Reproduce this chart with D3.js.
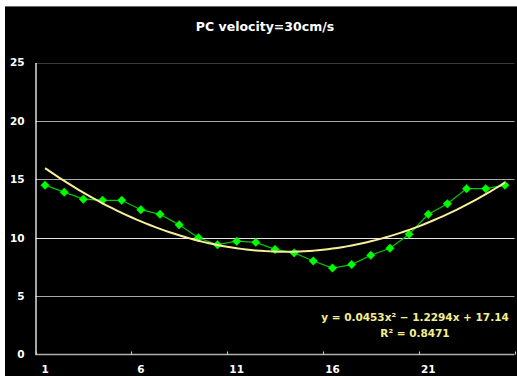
<!DOCTYPE html>
<html>
<head>
<meta charset="utf-8">
<script src="https://cdn.jsdelivr.net/npm/d3@7"></script>
<style>
  html, body { margin: 0; padding: 0; background: #ffffff; }
  svg { display: block; }
  text { font-family: "DejaVu Sans", "Liberation Sans", sans-serif; font-weight: bold; }
</style>
</head>
<body>
<svg id="chart" width="517" height="376"></svg>
<script>
// Chart data
const titleText = "PC velocity=30cm/s";
const categories = d3.range(1, 26);
const velocityValues = [14.5, 13.9, 13.3, 13.2, 13.2, 12.4, 12.0, 11.1, 10.0, 9.4,
                        9.7, 9.6, 9.0, 8.7, 8.0, 7.4, 7.7, 8.5, 9.1, 10.3,
                        12.0, 12.9, 14.2, 14.2, 14.5];
const yTicks = [0, 5, 10, 15, 20, 25];
const xTickLabels = [1, 6, 11, 16, 21];
// Polynomial trend line coefficients: y = a x^2 + b x + c
const trendCoeffs = [0.0453, -1.2294, 17.14];
const trendLabel = ["y = 0.0453x\u00B2 \u2212 1.2294x + 17.14", "R\u00B2 = 0.8471"];

const svg = d3.select("#chart");

// Frame
svg.append("rect").attr("x", 5).attr("y", 6).attr("width", 512).attr("height", 370).attr("fill", "#000");
svg.append("line").attr("x1", 5).attr("x2", 517).attr("y1", 6.5).attr("y2", 6.5)
  .attr("stroke", "#6a6a6a").attr("stroke-width", 1);

const plot = { left: 35.5, right: 514.5, top: 62.5, bottom: 354.5 };

const x = d3.scaleBand().domain(categories).range([plot.left, plot.right]).paddingInner(0).paddingOuter(0);
const xc = d => x(d) + x.bandwidth() / 2;
const xl = d3.scaleLinear().domain([0.5, categories.length + 0.5]).range([plot.left, plot.right]);
const y = d3.scaleLinear().domain([0, 25]).range([plot.bottom, plot.top]);

// Title
svg.append("text").attr("x", 265).attr("y", 31).attr("text-anchor", "middle")
  .attr("fill", "#fff").attr("font-size", 12.5).text(titleText);

// Horizontal gridlines
const gridColor = v => v === 25 ? "#3a3a3a" : (v === 10 ? "#e6e6e6" : "#a8a8a8");
svg.append("g").selectAll("line").data(yTicks.filter(v => v > 0)).join("line")
  .attr("x1", plot.left).attr("x2", plot.right)
  .attr("y1", d => Math.round(y(d)) + 0.5).attr("y2", d => Math.round(y(d)) + 0.5)
  .attr("stroke", gridColor).attr("stroke-width", 1.2);

// Y axis
const yAxis = d3.axisLeft(y).tickValues(yTicks).tickSize(0).tickPadding(11);
const yg = svg.append("g").attr("transform", `translate(${plot.left},0)`).call(yAxis);
yg.select(".domain").attr("stroke", "#fff").attr("stroke-width", 1.3);
yg.selectAll("text").attr("fill", "#fff").attr("font-size", 10.5)
  .attr("font-family", "DejaVu Sans, sans-serif").attr("font-weight", "bold");

// X axis with ticks at every fifth category boundary
const xAxisG = svg.append("g").attr("transform", `translate(0,${plot.bottom})`);
xAxisG.append("line").attr("x1", plot.left).attr("x2", plot.right).attr("y1", 0).attr("y2", 0)
  .attr("stroke", "#b0b0b0").attr("stroke-width", 1.3);
const boundaries = d3.range(0.5, categories.length + 1, 5);
xAxisG.selectAll("line.tick").data(boundaries).join("line").attr("class", "tick")
  .attr("x1", d => Math.round(xl(d)) + 0.5).attr("x2", d => Math.round(xl(d)) + 0.5)
  .attr("y1", 0).attr("y2", -3).attr("stroke", "#d0d0d0").attr("stroke-width", 1);
xAxisG.selectAll("text").data(xTickLabels).join("text")
  .attr("x", d => xc(d)).attr("y", 18).attr("text-anchor", "middle")
  .attr("fill", "#fff").attr("font-size", 10.5).text(d => d);

// Data series: line with diamond markers
const line = d3.line().x((d, i) => xc(categories[i])).y(d => y(d));
svg.append("path").datum(velocityValues).attr("d", line)
  .attr("fill", "none").attr("stroke", "#00c800").attr("stroke-width", 1.2);

const diamond = d3.symbol().type(d3.symbolDiamond2).size(46);
svg.append("g").selectAll("path").data(velocityValues).join("path")
  .attr("transform", (d, i) => `translate(${xc(categories[i])},${y(d)})`)
  .attr("d", diamond).attr("fill", "#00ff00").attr("stroke", "#00e000").attr("stroke-width", 0.6);

// Polynomial trend line
const poly = t => trendCoeffs[0] * t * t + trendCoeffs[1] * t + trendCoeffs[2];
const trendX = d3.range(1, categories.length + 0.001, 0.25);
const trendLine = d3.line().x(t => xl(t)).y(t => y(poly(t))).curve(d3.curveMonotoneX);
svg.append("path").datum(trendX).attr("d", trendLine)
  .attr("fill", "none").attr("stroke", "#f7f09a").attr("stroke-width", 2);

// Trend equation label
svg.append("g").selectAll("text").data(trendLabel).join("text")
  .attr("x", 415).attr("y", (d, i) => 321 + i * 16).attr("text-anchor", "middle")
  .attr("fill", "#f5ef8f").attr("font-size", 10.5).text(d => d);
</script>
</body>
</html>
